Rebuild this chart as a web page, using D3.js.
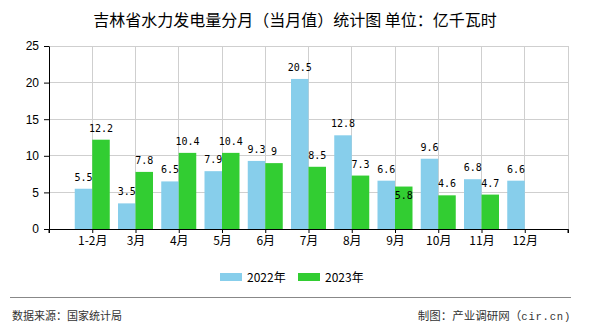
<!DOCTYPE html>
<html><head><meta charset="utf-8">
<script src="https://cdn.jsdelivr.net/npm/d3@7"></script>
<style>body{margin:0;background:#fff;}svg{display:block;}</style>
</head><body>
<script>
const categories = ["1-2月","3月","4月","5月","6月","7月","8月","9月","10月","11月","12月"];
const values2022 = [5.5,3.5,6.5,7.9,9.3,20.5,12.8,6.6,9.6,6.8,6.6];
const values2023 = [12.2,7.8,10.4,10.4,9,8.5,7.3,5.8,4.6,4.7,null];
const seriesNames = ["2022年","2023年"];
const yTicks = [0,5,10,15,20,25];
const title = "吉林省水力发电量分月（当月值）统计图 单位：亿千瓦时";
const sourceText = "数据来源：国家统计局";
const creditCjk = "制图：产业调研网（";
const creditLatin = "cir.cn)";

const W=590,H=330;
const L=49,R=568,T=46,B=229;
const colors=["#87CEEB","#32CD32"];
const cjk="'Noto Sans CJK SC','Noto Sans',sans-serif";

const svg=d3.select("body").append("svg").attr("width",W).attr("height",H);

const x=d3.scalePoint().domain(categories).range([L,R]).padding(1);
const y=d3.scaleLinear().domain([0,25]).range([B,T]);
const bw=17.5;

// title
svg.append("text").attr("x",295).attr("y",26).attr("text-anchor","middle")
  .attr("font-family",cjk).attr("font-size",16).attr("fill","#000").text(title);

// grid
const g=svg.append("g");
g.selectAll(".hg").data(yTicks.filter(d=>d>0)).join("line")
  .attr("x1",L).attr("x2",R).attr("y1",d=>y(d)).attr("y2",d=>y(d))
  .attr("stroke","#cfcfcf").attr("stroke-width",1).attr("shape-rendering","crispEdges");
g.selectAll(".vg").data(categories.map(c=>x(c)).concat([R])).join("line")
  .attr("x1",d=>d).attr("x2",d=>d).attr("y1",T).attr("y2",B)
  .attr("stroke","#cfcfcf").attr("stroke-width",1).attr("shape-rendering","crispEdges");

// bars
const series=[values2022,values2023];
series.forEach((vals,si)=>{
  svg.append("g").selectAll("rect").data(categories.map((c,i)=>({c,v:vals[i]})).filter(d=>d.v!=null)).join("rect")
    .attr("x",d=>si===0? x(d.c)-bw : x(d.c))
    .attr("width",bw)
    .attr("y",d=>y(d.v)).attr("height",d=>B-y(d.v))
    .attr("fill",colors[si]);
});

// axes
const xAxis=svg.append("g").attr("transform",`translate(0,${B})`)
  .call(d3.axisBottom(x).tickSize(4).tickSizeOuter(4));
xAxis.select(".domain").attr("stroke","#000");
xAxis.selectAll(".tick line").attr("stroke","#000");
xAxis.selectAll(".tick text").attr("font-family",cjk).attr("font-size",12).attr("fill","#000").attr("dy","0.95em").attr("y",5);
svg.append("g").selectAll("line").data([L,R]).join("line")
  .attr("x1",d=>d).attr("x2",d=>d).attr("y1",B).attr("y2",B+4).attr("stroke","#000");

const yAxis=svg.append("g").attr("transform",`translate(${L},0)`)
  .call(d3.axisLeft(y).tickValues(yTicks).tickSize(5).tickSizeOuter(0));
yAxis.select(".domain").attr("stroke","#000");
yAxis.selectAll(".tick line").attr("stroke","#000");
yAxis.selectAll(".tick text").attr("font-family","'Liberation Sans',Arial,sans-serif").attr("font-size",12).attr("fill","#000").attr("x",-10);

// labels
const lblFont="'DejaVu Sans Mono',monospace";
const charW=6.02;
const placed=[];
categories.forEach((c,i)=>{
  series.forEach((vals,si)=>{
    const v=vals[i]; if(v==null) return;
    const cx= si===0? x(c)-bw/2 : x(c)+bw/2;
    const txt=String(v);
    const w=txt.length*charW;
    let base=y(v)-8;
    const box=()=>({x0:cx-w/2,x1:cx+w/2,y0:base-8,y1:base+1});
    const ov=(a,b)=>a.x0<b.x1&&a.x1>b.x0&&a.y0<b.y1&&a.y1>b.y0;
    if(placed.some(p=>ov(box(),p))) base=y(v)+12.5;
    placed.push(box());
    svg.append("text").attr("x",cx).attr("y",base).attr("text-anchor","middle")
      .attr("font-family",lblFont).attr("font-size",10).attr("fill","#000").text(txt);
  });
});

// legend
const lg=svg.append("g");
const lx=[220,298];
seriesNames.forEach((n,i)=>{
  lg.append("rect").attr("x",lx[i]).attr("y",273).attr("width",22).attr("height",8).attr("fill",colors[i]);
  lg.append("text").attr("x",lx[i]+27).attr("y",282).attr("font-family",cjk).attr("font-size",12).attr("fill","#000").text(n);
});

// footer
svg.append("line").attr("x1",10).attr("x2",571).attr("y1",297.5).attr("y2",297.5).attr("stroke","#888").attr("stroke-width",1);
svg.append("text").attr("x",12).attr("y",320).attr("font-family",cjk).attr("font-size",11).attr("fill","#333").text(sourceText);
const cr=svg.append("text").attr("x",571).attr("y",320).attr("text-anchor","end").attr("font-family",cjk).attr("font-size",11.5).attr("fill","#333");
cr.append("tspan").text(creditCjk);
cr.append("tspan").attr("font-family","'Liberation Mono',monospace").attr("font-size",10.5).attr("letter-spacing",0.8).text(creditLatin);
</script>
</body></html>
